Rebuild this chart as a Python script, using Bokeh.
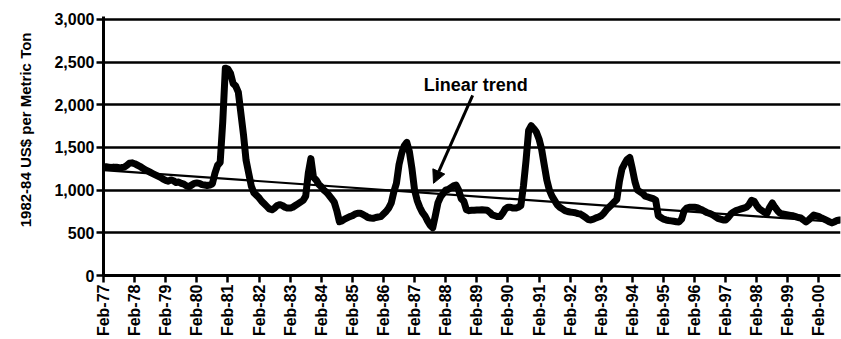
import math
from bokeh.plotting import figure
from bokeh.models import Range1d, FixedTicker, NumeralTickFormatter, Label, Arrow, NormalHead, Title
from bokeh.embed import file_html
from bokeh.resources import INLINE

# Monthly values, Feb-77 (month 0) onward, 1982-84 US$ per metric ton
prices = [
    # Feb-77 .. Jan-78
    1270, 1275, 1270, 1265, 1270, 1268, 1262, 1265, 1270, 1290, 1315, 1320,
    # Feb-78 .. Jan-79
    1310, 1295, 1280, 1260, 1240, 1225, 1210, 1195, 1180, 1165, 1150, 1130,
    # Feb-79 .. Jan-80
    1115, 1105, 1120, 1110, 1090, 1095, 1080, 1070, 1050, 1040, 1060, 1080,
    # Feb-80 .. Jan-81
    1085, 1080, 1065, 1060, 1055, 1060, 1075, 1200, 1290, 1325, 1800, 2430,
    # Feb-81 .. Jan-82
    2420, 2370, 2250, 2220, 2150, 1900, 1650, 1350, 1200, 1050, 970, 940,
    # Feb-82 .. Jan-83
    910, 870, 840, 810, 780, 770, 790, 820, 830, 820, 800, 790,
    # Feb-83 .. Jan-84
    790, 800, 820, 840, 860, 880, 930, 1200, 1370, 1150, 1120, 1070,
    # Feb-84 .. Jan-85
    1040, 1000, 975, 940, 900, 860, 760, 630, 640, 660, 675, 690,
    # Feb-85 .. Jan-86
    700, 720, 730, 730, 715, 700, 680, 674, 670, 680, 686, 690,
    # Feb-86 .. Jan-87
    720, 750, 790, 850, 980, 1080, 1300, 1430, 1520, 1560, 1450, 1250,
    # Feb-87 .. Jan-88
    1000, 880, 800, 740, 700, 640, 590, 560, 700, 850, 920, 960,
    # Feb-88 .. Jan-89
    1000, 1010, 1030, 1050, 1060, 1000, 900, 870, 770, 760, 765, 765,
    # Feb-89 .. Jan-90
    767, 768, 770, 768, 765, 740, 710, 700, 690, 690, 730, 780,
    # Feb-90 .. Jan-91
    800, 800, 790, 790, 800, 820, 1050, 1350, 1700, 1755, 1720, 1680,
    # Feb-91 .. Jan-92
    1600, 1480, 1300, 1120, 1000, 930, 880, 830, 800, 780, 760, 750,
    # Feb-92 .. Jan-93
    744, 740, 735, 725, 720, 700, 680, 655, 651, 660, 675, 686,
    # Feb-93 .. Jan-94
    700, 730, 770, 800, 830, 860, 890, 1100, 1250, 1310, 1360, 1384,
    # Feb-94 .. Jan-95
    1250, 1100, 1000, 980, 960, 930, 920, 910, 900, 884, 700, 680,
    # Feb-95 .. Jan-96
    660, 651, 645, 640, 635, 630, 628, 660, 760, 790, 800, 800,
    # Feb-96 .. Jan-97
    800, 795, 780, 767, 750, 735, 725, 710, 690, 670, 660, 651,
    # Feb-97 .. Jan-98
    651, 680, 720, 744, 760, 770, 780, 790, 800, 830, 880, 870,
    # Feb-98 .. Jan-99
    820, 780, 760, 740, 730, 800, 850, 800, 760, 730, 720, 715,
    # Feb-99 .. Jan-00
    710, 705, 700, 690, 680, 674, 650, 628, 650, 680, 709, 700,
    # Feb-00 .. Oct-00
    690, 674, 660, 645, 630, 616, 630, 645, 651,
]
months = list(range(len(prices)))

# Linear trend end points
trend_x = [0, len(prices) - 1]
trend_y = [1235, 625]

tick_months = list(range(0, 277, 12))
tick_labels = ["Feb-77", "Feb-78", "Feb-79", "Feb-80", "Feb-81", "Feb-82", "Feb-83", "Feb-84",
               "Feb-85", "Feb-86", "Feb-87", "Feb-88", "Feb-89", "Feb-90", "Feb-91", "Feb-92",
               "Feb-93", "Feb-94", "Feb-95", "Feb-96", "Feb-97", "Feb-98", "Feb-99", "Feb-00"]
y_ticks = [0, 500, 1000, 1500, 2000, 2500, 3000]
y_title = "1982-84 US$ per Metric Ton"

FONT = "Liberation Sans"

p = figure(width=841, height=339, output_backend="svg", toolbar_location=None,
           x_range=Range1d(0, 284.3), y_range=Range1d(0, 3035),
           min_border_left=103, min_border_right=1, min_border_top=16, min_border_bottom=63)
p.outline_line_color = None
p.background_fill_color = "white"
p.border_fill_color = "white"

p.xgrid.visible = False
p.ygrid.ticker = FixedTicker(ticks=y_ticks)
p.ygrid.grid_line_color = "black"
p.ygrid.grid_line_width = 2.5

# y axis
p.yaxis.ticker = FixedTicker(ticks=y_ticks)
p.yaxis.formatter = NumeralTickFormatter(format="0,0")
p.yaxis.major_label_text_font = FONT
p.yaxis.major_label_text_font_style = "bold"
p.yaxis.major_label_text_font_size = "16px"
p.yaxis.major_label_text_color = "black"
p.yaxis.axis_line_width = 3
p.yaxis.axis_line_color = "black"
p.yaxis.major_tick_line_width = 2.5
p.yaxis.major_tick_line_color = "black"
p.yaxis.major_tick_out = 7
p.yaxis.major_tick_in = 0
p.yaxis.minor_tick_line_color = None
p.yaxis.major_label_standoff = 2

# y title as a side title, pinned near the top of the frame like the original
p.add_layout(Title(text=y_title, align="right", offset=16, vertical_align="top",
                   standoff=32, text_font=FONT, text_font_style="bold",
                   text_font_size="15px", text_color="black"), "left")

# x axis
p.xaxis.ticker = FixedTicker(ticks=tick_months)
p.xaxis.major_label_overrides = {m: lab for m, lab in zip(tick_months, tick_labels)}
p.xaxis.major_label_orientation = math.pi / 2
p.xaxis.major_label_text_font = FONT
p.xaxis.major_label_text_font_style = "bold"
p.xaxis.major_label_text_font_size = "16px"
p.xaxis.major_label_text_color = "black"
p.xaxis.axis_line_width = 3
p.xaxis.axis_line_color = "black"
p.xaxis.major_tick_line_width = 2.5
p.xaxis.major_tick_line_color = "black"
p.xaxis.major_tick_out = 7
p.xaxis.major_tick_in = 0
p.xaxis.minor_tick_line_color = None
p.xaxis.major_label_standoff = 2

# data
p.line(trend_x, trend_y, line_color="black", line_width=2.2)
p.line(months, prices, line_color="black", line_width=7, line_join="round", line_cap="round")

# annotation
p.add_layout(Label(x=143.6, y=2230, text="Linear trend", text_align="center",
                   text_baseline="alphabetic", text_font=FONT, text_font_style="bold",
                   text_font_size="18px", text_color="black"))
p.add_layout(Arrow(x_start=142.4, y_start=2110, x_end=127.3, y_end=1080,
                   line_color="black", line_width=3,
                   end=NormalHead(size=13, fill_color="black", line_color="black")))

open("out.html", "w").write(file_html(p, INLINE))
